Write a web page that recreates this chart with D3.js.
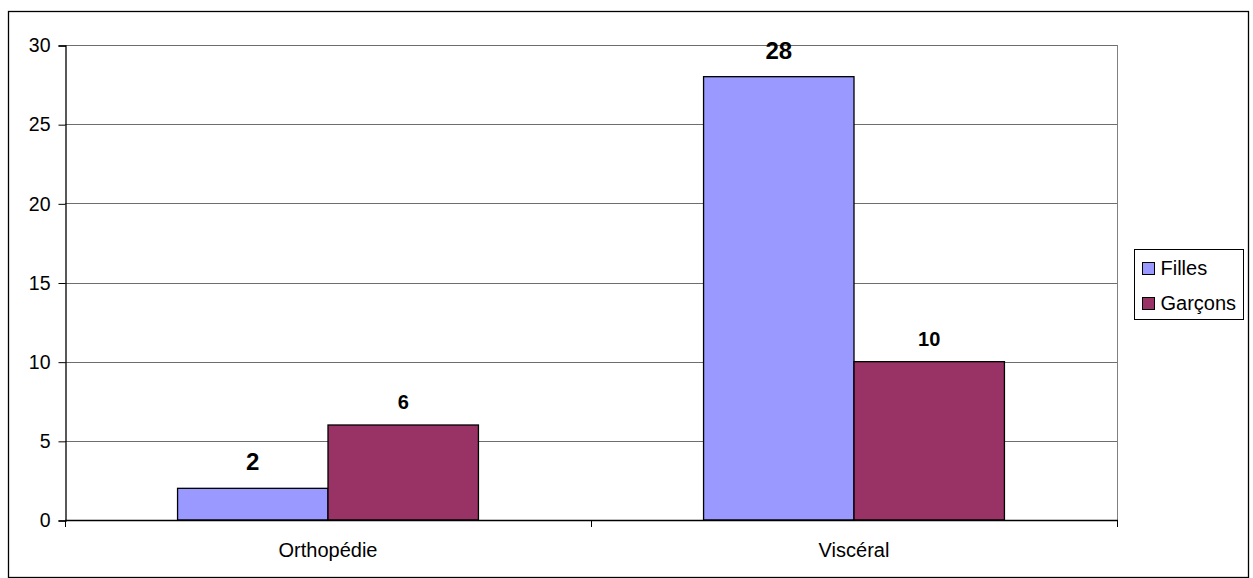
<!DOCTYPE html>
<html>
<head>
<meta charset="utf-8">
<script src="https://cdn.jsdelivr.net/npm/d3@7"></script>
<style>
  html, body { margin: 0; padding: 0; background: #fff; }
  svg { display: block; font-family: "Liberation Sans", Arial, sans-serif; }
</style>
</head>
<body>
<svg id="chart" width="1253" height="578"></svg>
<script>
// Data
const categories = ["Orthopédie", "Viscéral"];
const seriesNames = ["Filles", "Garçons"];
const filles = [2, 28];
const garcons = [6, 10];
const yTicks = [0, 5, 10, 15, 20, 25, 30];

const colors = { "Filles": "#9999ff", "Garçons": "#993366" };
const labelSize = { "Filles": 24, "Garçons": 20 };
const labelGap = { "Filles": 18, "Garçons": 16 };

const svg = d3.select("#chart");

// Outer frame
svg.append("rect")
  .attr("x", 8.5).attr("y", 11.5)
  .attr("width", 1240).attr("height", 566)
  .attr("fill", "#fff").attr("stroke", "#000").attr("stroke-width", 1.3);

const plot = { left: 65, right: 1117, top: 45, bottom: 520 };

const y = d3.scaleLinear().domain([0, 30]).range([plot.bottom, plot.top]);
const x0 = d3.scaleBand().domain(categories)
  .range([plot.left, plot.right])
  .paddingInner(0.428).paddingOuter(0.214);
const x1 = d3.scaleBand().domain(seriesNames).range([0, x0.bandwidth()]);

// Horizontal gridlines
svg.append("g").selectAll("line")
  .data(yTicks.filter(t => t > 0))
  .join("line")
  .attr("x1", plot.left).attr("x2", plot.right)
  .attr("y1", d => Math.round(y(d)) + 0.5).attr("y2", d => Math.round(y(d)) + 0.5)
  .attr("stroke", "#6e6e6e").attr("stroke-width", 1);

// Right edge of plot area
svg.append("line")
  .attr("x1", plot.right + 0.5).attr("x2", plot.right + 0.5)
  .attr("y1", plot.top).attr("y2", plot.bottom)
  .attr("stroke", "#808080");

// Bars
const rows = categories.map((c, i) => ({ cat: c, vals: [
  { name: "Filles", v: filles[i] },
  { name: "Garçons", v: garcons[i] }
]}));

const groups = svg.append("g").selectAll("g")
  .data(rows).join("g")
  .attr("transform", d => `translate(${x0(d.cat)},0)`);

groups.selectAll("rect")
  .data(d => d.vals).join("rect")
  .attr("x", d => x1(d.name))
  .attr("y", d => y(d.v))
  .attr("width", x1.bandwidth())
  .attr("height", d => y(0) - y(d.v))
  .attr("fill", d => colors[d.name])
  .attr("stroke", "#000").attr("stroke-width", 1.3);

groups.selectAll("text")
  .data(d => d.vals).join("text")
  .attr("x", d => x1(d.name) + x1.bandwidth() / 2)
  .attr("y", d => y(d.v) - labelGap[d.name])
  .attr("text-anchor", "middle")
  .attr("font-weight", "bold")
  .attr("font-size", d => labelSize[d.name])
  .attr("fill", "#000")
  .text(d => d.v);

// Y axis
const yAxis = d3.axisLeft(y).tickValues(yTicks).tickSize(7).tickPadding(8);
const gy = svg.append("g")
  .attr("transform", `translate(${plot.left + 0.5},0.5)`)
  .call(yAxis);
gy.select(".domain").attr("stroke", "#000").attr("stroke-width", 1.3);
gy.selectAll(".tick line").attr("stroke", "#000");
gy.selectAll(".tick text").attr("font-size", 19.5).attr("fill", "#000")
  .attr("font-family", "Liberation Sans, Arial, sans-serif");

// X axis line
svg.append("line")
  .attr("x1", plot.left).attr("x2", plot.right + 1)
  .attr("y1", plot.bottom + 0.5).attr("y2", plot.bottom + 0.5)
  .attr("stroke", "#000").attr("stroke-width", 1.3);

// Category boundary ticks
const bounds = d3.range(categories.length + 1).map(i => plot.left + i * (plot.right - plot.left) / categories.length);
svg.append("g").selectAll("line")
  .data(bounds).join("line")
  .attr("x1", d => Math.round(d) + 0.5).attr("x2", d => Math.round(d) + 0.5)
  .attr("y1", plot.bottom).attr("y2", plot.bottom + 7)
  .attr("stroke", "#000");

// Category labels
svg.append("g").selectAll("text")
  .data(categories).join("text")
  .attr("x", d => x0(d) + x0.bandwidth() / 2)
  .attr("y", 557)
  .attr("text-anchor", "middle")
  .attr("font-size", 20)
  .attr("fill", "#000")
  .text(d => d);

// Legend
const legend = svg.append("g").attr("transform", "translate(1134.5,249.5)");
legend.append("rect")
  .attr("width", 109).attr("height", 70)
  .attr("fill", "#fff").attr("stroke", "#000");
const items = legend.selectAll("g.item")
  .data(seriesNames).join("g")
  .attr("class", "item")
  .attr("transform", (d, i) => `translate(8,${13 + i * 35})`);
items.append("rect")
  .attr("width", 12).attr("height", 12)
  .attr("fill", d => colors[d]).attr("stroke", "#000");
items.append("text")
  .attr("x", 18).attr("y", 12.5)
  .attr("font-size", 20)
  .attr("fill", "#000")
  .text(d => d);
</script>
</body>
</html>
